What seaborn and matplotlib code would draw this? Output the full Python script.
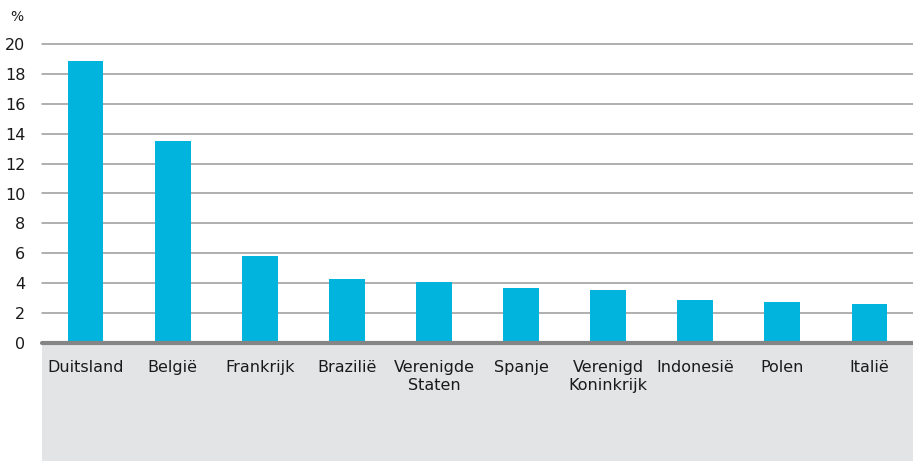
import matplotlib
matplotlib.use("Agg")
import matplotlib.pyplot as plt
import seaborn as sns
import pandas as pd
from matplotlib.patches import Rectangle

countries = ["Duitsland", "België", "Frankrijk", "Brazilië", "Verenigde\nStaten",
             "Spanje", "Verenigd\nKoninkrijk", "Indonesië", "Polen", "Italië"]
values = [18.85, 13.5, 5.8, 4.25, 4.05, 3.65, 3.55, 2.85, 2.75, 2.6]
yticks = [0, 2, 4, 6, 8, 10, 12, 14, 16, 18, 20]

sns.set_theme(style="white")
plt.rcParams['font.family'] = ['DejaVu Sans']

W, H = 913, 461
fig = plt.figure(figsize=(W / 100, H / 100), dpi=100)
left, right = 42 / W, 1.0
y0px, y20px = 343, 44
ax = fig.add_axes([left, (H - y0px) / H, right - left, (y0px - y20px) / H])
ax.set_zorder(2)

# gray band below axis
fig.patches.append(Rectangle((left, 0), right - left, (H - 345) / H,
                             transform=fig.transFigure, facecolor="#e3e4e6",
                             edgecolor="none", zorder=0))

df = pd.DataFrame({"land": countries, "waarde": values})
sns.barplot(data=df, x="land", y="waarde", color="#00b4de", width=0.41,
            saturation=1, ax=ax, zorder=3, linewidth=0)

ax.set_ylim(0, 20)
ax.set_xlim(-0.5, len(countries) - 0.5)
ax.set_yticks(yticks)
for t in yticks[1:]:
    ax.axhline(t, color="#9a9a9a", lw=1.1, zorder=1, clip_on=False)
ax.axhline(0, color="#858585", lw=3, zorder=4, clip_on=False)

for s in ax.spines.values():
    s.set_visible(False)
ax.patch.set_alpha(0)
ax.set_xlabel("")
ax.set_ylabel("")
ax.tick_params(axis="both", length=0, labelsize=11.5, colors="#1a1a1a")
ax.tick_params(axis="y", pad=12)
ax.tick_params(axis="x", pad=12)
for lbl in ax.get_xticklabels():
    lbl.set_linespacing(1.25)

fig.text(10 / W, 1 - 17 / H, "%", fontsize=10, color="#1a1a1a", va="center", ha="left")

fig.savefig("out.png", dpi=100)
